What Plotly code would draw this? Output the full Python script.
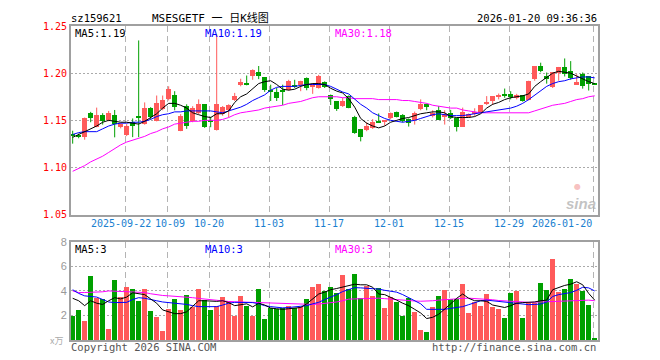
import plotly.graph_objects as go

# ---------------- data ----------------
dates = [
    "2025-09-09", "2025-09-10", "2025-09-11", "2025-09-12",
    "2025-09-15", "2025-09-16", "2025-09-17", "2025-09-18", "2025-09-19",
    "2025-09-22", "2025-09-23", "2025-09-24", "2025-09-25", "2025-09-26",
    "2025-09-29", "2025-09-30",
    "2025-10-09", "2025-10-10",
    "2025-10-13", "2025-10-14", "2025-10-15", "2025-10-16", "2025-10-17",
    "2025-10-20", "2025-10-21", "2025-10-22", "2025-10-23", "2025-10-24",
    "2025-10-27", "2025-10-28", "2025-10-29", "2025-10-30", "2025-10-31",
    "2025-11-03", "2025-11-04", "2025-11-05", "2025-11-06", "2025-11-07",
    "2025-11-10", "2025-11-11", "2025-11-12", "2025-11-13", "2025-11-14",
    "2025-11-17", "2025-11-18", "2025-11-19", "2025-11-20", "2025-11-21",
    "2025-11-24", "2025-11-25", "2025-11-26", "2025-11-27", "2025-11-28",
    "2025-12-01", "2025-12-02", "2025-12-03", "2025-12-04", "2025-12-05",
    "2025-12-08", "2025-12-09", "2025-12-10", "2025-12-11", "2025-12-12",
    "2025-12-15", "2025-12-16", "2025-12-17", "2025-12-18", "2025-12-19",
    "2025-12-22", "2025-12-23", "2025-12-24", "2025-12-25", "2025-12-26",
    "2025-12-29", "2025-12-30", "2025-12-31",
    "2026-01-05", "2026-01-06", "2026-01-07", "2026-01-08", "2026-01-09",
    "2026-01-12", "2026-01-13", "2026-01-14", "2026-01-15", "2026-01-16",
    "2026-01-19", "2026-01-20",
]

opens = [1.1360, 1.1335, 1.1320, 1.1580, 1.1430, 1.1555, 1.1500, 1.1555, 1.1430, 1.1347,
         1.1479, 1.1548, 1.1461, 1.1635, 1.1496, 1.1618, 1.1722, 1.1774, 1.1392, 1.1652,
         1.1489, 1.1583, 1.1670, 1.1503, 1.1399, 1.1566, 1.1607, 1.1711, 1.1878, 1.1895,
         1.1965, 1.2017, 1.1955, 1.1826, 1.1802, 1.1826, 1.1826, 1.1878, 1.1878, 1.1948,
         1.1861, 1.1843, 1.1906, 1.1774, 1.1705, 1.1652, 1.1757, 1.1538, 1.1409, 1.1399,
         1.1420, 1.1489, 1.1489, 1.1524, 1.1593, 1.1555, 1.1514, 1.1503, 1.1618, 1.1670,
         1.1548, 1.1607, 1.1531, 1.1573, 1.1524, 1.1434, 1.1538, 1.1566, 1.1593, 1.1670,
         1.1705, 1.1757, 1.1774, 1.1781, 1.1732, 1.1764, 1.1712, 1.1941, 1.2076, 1.1975,
         1.1854, 1.1999, 1.2066, 1.2024, 1.1885, 1.1989, 1.1965, 1.1890]
closes = [1.1330, 1.1330, 1.1530, 1.1520, 1.1555, 1.1490, 1.1580, 1.1460, 1.1460, 1.1444,
          1.1444, 1.1531, 1.1635, 1.1531, 1.1687, 1.1711, 1.1833, 1.1642, 1.1548, 1.1444,
          1.1635, 1.1670, 1.1434, 1.1489, 1.1670, 1.1642, 1.1659, 1.1763, 1.1906, 1.1878,
          1.2034, 1.1975, 1.1819, 1.1809, 1.1739, 1.1802, 1.1913, 1.1861, 1.1920, 1.1843,
          1.1878, 1.1972, 1.1850, 1.1729, 1.1618, 1.1705, 1.1628, 1.1368, 1.1323, 1.1437,
          1.1479, 1.1479, 1.1503, 1.1583, 1.1538, 1.1489, 1.1468, 1.1583, 1.1670, 1.1642,
          1.1583, 1.1503, 1.1566, 1.1524, 1.1427, 1.1593, 1.1566, 1.1593, 1.1663, 1.1694,
          1.1757, 1.1764, 1.1764, 1.1746, 1.1764, 1.1705, 1.1913, 1.2076, 1.2027, 1.1941,
          1.2010, 1.2066, 1.1993, 1.1948, 1.1903, 1.1861, 1.1885, 1.1885]
highs = [1.1390, 1.1360, 1.1530, 1.1590, 1.1635, 1.1576, 1.1600, 1.1610, 1.1470, 1.1460,
         1.1520, 1.2347, 1.1690, 1.1640, 1.1763, 1.1763, 1.1861, 1.1809, 1.1566, 1.1670,
         1.1650, 1.1722, 1.1670, 1.1538, 1.2410, 1.1652, 1.1670, 1.1791, 1.1941, 1.1975,
         1.2041, 1.2076, 1.1955, 1.1878, 1.1843, 1.1878, 1.1930, 1.1930, 1.1920, 1.1955,
         1.1895, 1.1982, 1.1913, 1.1774, 1.1705, 1.1739, 1.1764, 1.1548, 1.1409, 1.1479,
         1.1513, 1.1573, 1.1503, 1.1583, 1.1593, 1.1566, 1.1520, 1.1593, 1.1722, 1.1677,
         1.1607, 1.1652, 1.1607, 1.1611, 1.1524, 1.1635, 1.1573, 1.1628, 1.1663, 1.1757,
         1.1757, 1.1784, 1.1837, 1.1809, 1.1781, 1.1764, 1.1920, 1.2076, 1.2111, 1.2007,
         1.2010, 1.2066, 1.2156, 1.2128, 1.1989, 1.2007, 1.1965, 1.1895]
lows = [1.1253, 1.1310, 1.1295, 1.1480, 1.1427, 1.1455, 1.1490, 1.1320, 1.1415, 1.1333,
        1.1322, 1.1322, 1.1454, 1.1510, 1.1489, 1.1607, 1.1711, 1.1607, 1.1385, 1.1410,
        1.1480, 1.1566, 1.1420, 1.1427, 1.1392, 1.1548, 1.1531, 1.1705, 1.1861, 1.1871,
        1.1930, 1.1937, 1.1802, 1.1705, 1.1705, 1.1663, 1.1816, 1.1843, 1.1809, 1.1819,
        1.1781, 1.1836, 1.1843, 1.1663, 1.1600, 1.1642, 1.1628, 1.1357, 1.1277, 1.1385,
        1.1409, 1.1476, 1.1444, 1.1513, 1.1531, 1.1479, 1.1434, 1.1455, 1.1607, 1.1607,
        1.1531, 1.1503, 1.1455, 1.1514, 1.1382, 1.1434, 1.1531, 1.1548, 1.1583, 1.1663,
        1.1663, 1.1722, 1.1739, 1.1722, 1.1722, 1.1698, 1.1712, 1.1920, 1.2010, 1.1889,
        1.1843, 1.1920, 1.1965, 1.1930, 1.1878, 1.1836, 1.1816, 1.1880]

volumes = [1.95, 2.48, 1.60, 5.20, 3.47, 3.33, 0.88, 4.88, 3.52, 4.32,
           4.13, 3.20, 4.16, 2.40, 1.87, 0.72, 2.56, 3.36, 2.48, 3.68,
           2.72, 4.16, 3.25, 2.48, 2.80, 3.52, 3.15, 2.00, 3.60, 2.80,
           1.95, 4.16, 1.76, 2.61, 2.53, 2.61, 2.80, 2.61, 2.67, 3.39,
           4.32, 4.59, 4.00, 4.32, 3.87, 5.31, 4.16, 5.39, 3.47, 4.40,
           3.60, 4.21, 2.59, 3.55, 3.07, 1.97, 3.47, 2.27, 0.85, 0.67,
           2.67, 3.63, 4.11, 3.33, 3.33, 4.59, 2.19, 3.07, 2.80, 3.79,
           2.67, 2.51, 1.79, 3.84, 4.00, 1.79, 2.99, 2.99, 4.67, 4.11,
           6.59, 3.95, 4.16, 4.99, 4.59, 4.00, 2.88, 0.19]

ma5 = [1.132, 1.135, 1.138, 1.141, 1.144, 1.148, 1.150, 1.149, 1.148, 1.148,
       1.147, 1.146, 1.149, 1.153, 1.157, 1.163, 1.168, 1.168, 1.166, 1.163,
       1.158, 1.156, 1.154, 1.153, 1.157, 1.157, 1.160, 1.169, 1.175, 1.178,
       1.183, 1.189, 1.191, 1.192, 1.188, 1.183, 1.182, 1.183, 1.186, 1.188,
       1.189, 1.189, 1.188, 1.184, 1.181, 1.179, 1.173, 1.164, 1.152, 1.147,
       1.144, 1.142, 1.144, 1.148, 1.150, 1.152, 1.153, 1.155, 1.157, 1.158,
       1.159, 1.159, 1.158, 1.154, 1.153, 1.153, 1.153, 1.154, 1.157, 1.163,
       1.167, 1.169, 1.172, 1.174, 1.175, 1.176, 1.178, 1.186, 1.191, 1.196,
       1.200, 1.202, 1.201, 1.200, 1.197, 1.194, 1.191, 1.189]
ma10 = [1.135, 1.137, 1.138, 1.138, 1.138, 1.141, 1.144, 1.146, 1.147, 1.147,
        1.148, 1.148, 1.149, 1.151, 1.154, 1.156, 1.157, 1.159, 1.159, 1.160,
        1.160, 1.160, 1.160, 1.160, 1.159, 1.158, 1.160, 1.162, 1.164, 1.167,
        1.171, 1.174, 1.177, 1.182, 1.185, 1.186, 1.186, 1.186, 1.187, 1.188,
        1.188, 1.188, 1.188, 1.186, 1.183, 1.180, 1.178, 1.172, 1.167, 1.163,
        1.158, 1.155, 1.152, 1.150, 1.149, 1.148, 1.149, 1.150, 1.152, 1.154,
        1.156, 1.157, 1.156, 1.155, 1.155, 1.155, 1.156, 1.157, 1.158, 1.159,
        1.160, 1.161, 1.162, 1.163, 1.165, 1.168, 1.172, 1.177, 1.182, 1.186,
        1.189, 1.191, 1.192, 1.194, 1.195, 1.196, 1.196, 1.195]
ma30 = [1.096, 1.099, 1.102, 1.106, 1.109, 1.112, 1.116, 1.120, 1.124, 1.127,
        1.129, 1.131, 1.133, 1.136, 1.138, 1.141, 1.143, 1.146, 1.147, 1.148,
        1.149, 1.149, 1.150, 1.150, 1.150, 1.151, 1.153, 1.156, 1.158, 1.159,
        1.160, 1.161, 1.163, 1.164, 1.165, 1.166, 1.168, 1.169, 1.170, 1.172,
        1.174, 1.175, 1.175, 1.175, 1.175, 1.174, 1.174, 1.173, 1.173, 1.173,
        1.173, 1.172, 1.172, 1.172, 1.172, 1.171, 1.171, 1.170, 1.169, 1.168,
        1.166, 1.165, 1.164, 1.163, 1.163, 1.161, 1.160, 1.159, 1.158, 1.158,
        1.158, 1.158, 1.158, 1.158, 1.158, 1.158, 1.158, 1.160, 1.162, 1.164,
        1.166, 1.167, 1.168, 1.170, 1.172, 1.173, 1.175, 1.176]

vma5 = [3.40, 3.20, 2.80, 3.20, 3.00, 2.90, 3.20, 3.45, 3.35, 3.50,
        3.85, 3.80, 3.70, 3.35, 3.00, 2.45, 2.30, 2.15, 2.15, 2.30,
        2.75, 3.20, 3.20, 3.15, 3.15, 3.20, 3.05, 2.80, 2.85, 2.95,
        2.70, 3.00, 2.85, 2.60, 2.55, 2.50, 2.55, 2.60, 2.65, 2.95,
        3.35, 3.75, 3.90, 4.10, 4.20, 4.30, 4.45, 4.55, 4.50, 4.50,
        4.30, 3.75, 3.70, 3.50, 3.25, 3.00, 2.80, 2.50, 2.20, 1.75,
        1.85, 2.10, 2.50, 2.95, 3.40, 3.75, 3.40, 3.20, 3.20, 3.15,
        2.85, 2.75, 2.65, 2.80, 3.00, 3.05, 3.05, 3.10, 3.20, 3.25,
        4.10, 4.30, 4.45, 4.55, 4.75, 4.50, 3.80, 3.25]
vma10 = [4.10, 3.80, 3.60, 3.55, 3.50, 3.30, 3.10, 3.05, 3.05, 3.07,
         3.30, 3.45, 3.40, 3.33, 3.20, 3.10, 3.05, 3.02, 3.00, 2.90,
         2.80, 2.72, 2.72, 2.72, 2.72, 2.85, 3.00, 3.07, 3.07, 3.07,
         3.05, 2.95, 2.80, 2.72, 2.65, 2.62, 2.65, 2.70, 2.75, 2.80,
         2.95, 3.07, 3.30, 3.47, 3.70, 3.95, 4.10, 4.27, 4.25, 4.22,
         4.20, 4.15, 4.05, 4.00, 3.90, 3.70, 3.45, 3.20, 2.95, 2.50,
         2.48, 2.48, 2.50, 2.58, 2.62, 2.72, 2.88, 3.05, 3.20, 3.25,
         3.20, 3.10, 3.07, 3.04, 3.00, 2.95, 2.88, 2.90, 2.93, 3.10,
         3.55, 3.70, 3.80, 3.87, 4.05, 4.30, 4.25, 4.00]
vma30 = [4.00, 3.87, 3.87, 3.87, 3.87, 3.93, 4.00, 3.97, 3.95, 3.93,
         3.92, 3.90, 3.87, 3.77, 3.68, 3.63, 3.60, 3.57, 3.55, 3.50,
         3.45, 3.39, 3.33, 3.27, 3.20, 3.17, 3.14, 3.12, 3.10, 3.07,
         3.05, 3.03, 3.00, 3.00, 3.00, 3.00, 2.97, 2.93, 2.90, 2.88,
         2.90, 2.93, 2.97, 3.00, 3.10, 3.20, 3.33, 3.35, 3.37, 3.39,
         3.40, 3.41, 3.37, 3.32, 3.28, 3.24, 3.20, 3.18, 3.16, 3.15,
         3.20, 3.25, 3.30, 3.33, 3.36, 3.39, 3.41, 3.39, 3.36, 3.33,
         3.28, 3.22, 3.18, 3.15, 3.12, 3.09, 3.07, 3.08, 3.10, 3.12,
         3.16, 3.20, 3.23, 3.25, 3.25, 3.25, 3.25, 3.20]

price_ticks = [1.05, 1.10, 1.15, 1.20, 1.25]
volume_ticks = [2, 4, 6, 8]
date_ticks = ["2025-09-22", "2025-10-09", "2025-10-20", "2025-11-03", "2025-11-17",
              "2025-12-01", "2025-12-15", "2025-12-29", "2026-01-20"]
date_tick_text = ["2025-09-22", "10-09", "10-20", "11-03", "11-17",
                  "12-01", "12-15", "12-29", "2026-01-20"]

header_code = "sz159621"
header_title = "MSESGETF 一 日K线图"
header_time = "2026-01-20 09:36:36"
ma_price_text = ["MA5:1.19", "MA10:1.19", "MA30:1.18"]
ma_vol_text = ["MA5:3", "MA10:3", "MA30:3"]

# ---------------- styling ----------------
RED = "#ff5a5a"
GREEN = "#00a000"
MONO = "DejaVu Sans Mono, Liberation Mono, monospace"
CJK = "DejaVu Sans Mono, Noto Sans CJK SC, monospace"
OFF = 8  # page body margin offset
L, R, T, B = 71, 598, 20, 340   # plot area in window pixels
W, H = R - L, B - T


def px(x):
    return (x - L) / W


def py(y):
    return (B - y) / H


x = list(range(len(dates)))
up = [c >= o for o, c in zip(opens, closes)]
colors = [RED if u else GREEN for u in up]
tick_idx = [dates.index(d) for d in date_ticks]
grid_x = [i - 0.25 for i in tick_idx]

fig = go.Figure()

# wicks
for is_up, col in [(True, RED), (False, GREEN)]:
    wx, wy = [], []
    for i in x:
        if up[i] == is_up:
            wx += [i, i, None]
            wy += [lows[i], highs[i], None]
    fig.add_trace(go.Scatter(x=wx, y=wy, mode="lines", line=dict(color=col, width=1),
                             xaxis="x", yaxis="y", hoverinfo="skip", showlegend=False))

# bodies
body_base = [min(o, c) for o, c in zip(opens, closes)]
body_h = [max(abs(c - o), 0.0011) for o, c in zip(opens, closes)]
fig.add_trace(go.Bar(x=x, y=body_h, base=body_base, width=0.78,
                     marker=dict(color=colors, line=dict(width=0)),
                     xaxis="x", yaxis="y", showlegend=False, hoverinfo="skip"))

# price MAs
for arr, col in [(ma30, "#ff00ff"), (ma10, "#0000ff"), (ma5, "#000000")]:
    fig.add_trace(go.Scatter(x=x, y=arr, mode="lines", line=dict(color=col, width=1),
                             xaxis="x", yaxis="y", showlegend=False, hoverinfo="skip"))

# volume
fig.add_trace(go.Bar(x=x, y=volumes, width=0.83,
                     marker=dict(color=colors, line=dict(width=0)),
                     xaxis="x2", yaxis="y2", showlegend=False, hoverinfo="skip"))
for arr, col in [(vma30, "#ff00ff"), (vma10, "#0000ff"), (vma5, "#000000")]:
    fig.add_trace(go.Scatter(x=x, y=arr, mode="lines", line=dict(color=col, width=1),
                             xaxis="x2", yaxis="y2", showlegend=False, hoverinfo="skip"))

xr = [-0.28, 87.55]
frame = dict(showline=True, mirror=True, linecolor="#a0a0a0", linewidth=2, zeroline=False)
xcommon = dict(range=xr, tickvals=grid_x, showticklabels=False, ticks="",
               showgrid=True, gridcolor="#b4b4b4", griddash="6px,4px", gridwidth=1, **frame)

fig.update_layout(
    width=660 - OFF, height=360 - OFF,
    margin=dict(l=L - OFF, r=660 - R, t=T - OFF, b=360 - B),
    paper_bgcolor="white", plot_bgcolor="white",
    barmode="overlay", bargap=0, showlegend=False,
    xaxis=dict(domain=[0, 1], anchor="y", **xcommon),
    xaxis2=dict(domain=[0, 1], anchor="y2", **xcommon),
    yaxis=dict(domain=[py(212.3), 1.0], range=[1.05, 1.25], anchor="x",
               tickvals=price_ticks, ticktext=[f"{v:.2f}" for v in price_ticks],
               tickfont=dict(family=MONO, size=10, color="#ff0000"), ticks="",
               showgrid=True, gridcolor="#aaaaaa", griddash="2px,2px", gridwidth=1, **frame),
    yaxis2=dict(domain=[0, py(240)], range=[0, 8], anchor="x2",
                tickvals=volume_ticks, ticktext=[str(v) for v in volume_ticks],
                tickfont=dict(family="Liberation Sans, Arial, sans-serif", size=11, color="#999999"),
                ticks="", showgrid=True, gridcolor="#aaaaaa", griddash="2px,2px", gridwidth=1, **frame),
)

ann = []


def add_text(text, xp, yp, color="#000000", size=10, family=MONO, xanchor="left", yanchor="middle"):
    ann.append(dict(text=text, x=px(xp), y=py(yp), xref="paper", yref="paper",
                    xanchor=xanchor, yanchor=yanchor, showarrow=False,
                    font=dict(family=family, size=size, color=color)))


add_text(header_code, 69, 12, size=10.5)
add_text(header_title, 150, 12, size=11, family=CJK)
add_text(header_time, 599, 12, size=10.5, xanchor="right")

ma_cols = ["#000000", "#0000ff", "#ff00ff"]
ma_x = [73, 203, 333]
for t, c, xp in zip(ma_price_text, ma_cols, ma_x):
    add_text(t, xp, 27, color=c, size=10.5)
for t, c, xp in zip(ma_vol_text, ma_cols, ma_x):
    add_text(t, xp, 247, color=c, size=10.5)

# date labels
for i, (idx, txt) in enumerate(zip(grid_x, date_tick_text)):
    xpix = L + (idx - xr[0]) * W / (xr[1] - xr[0])
    if i == len(grid_x) - 1:
        add_text(txt, R - 4, 221, color="#1a7fd0", size=10, xanchor="right")
    elif i == 0:
        add_text(txt, xpix + 28, 221, color="#1a7fd0", size=10, xanchor="right")
    elif i == 1:
        add_text(txt, xpix - 14, 221, color="#1a7fd0", size=10, xanchor="left")
    else:
        add_text(txt, xpix, 221, color="#1a7fd0", size=10, xanchor="center")

add_text("x万", 48, 341, color="#aaaaaa", size=9, family="Noto Sans CJK SC, sans-serif")
add_text("Copyright 2026 SINA.COM", 69, 347, color="#555555", size=10.5)
add_text("http://finance.sina.com.cn", 598, 347, color="#555555", size=10.5, xanchor="right")
add_text("<b><i>sina</i></b>", 581, 201, color="rgba(175,175,175,0.75)", size=15,
         family="Liberation Sans, Arial, sans-serif", xanchor="center")
add_text("●", 577, 184, color="rgba(240,140,140,0.55)", size=8,
         family="DejaVu Sans, sans-serif", xanchor="center")

fig.update_layout(annotations=ann)
fig.write_html("out.html")
